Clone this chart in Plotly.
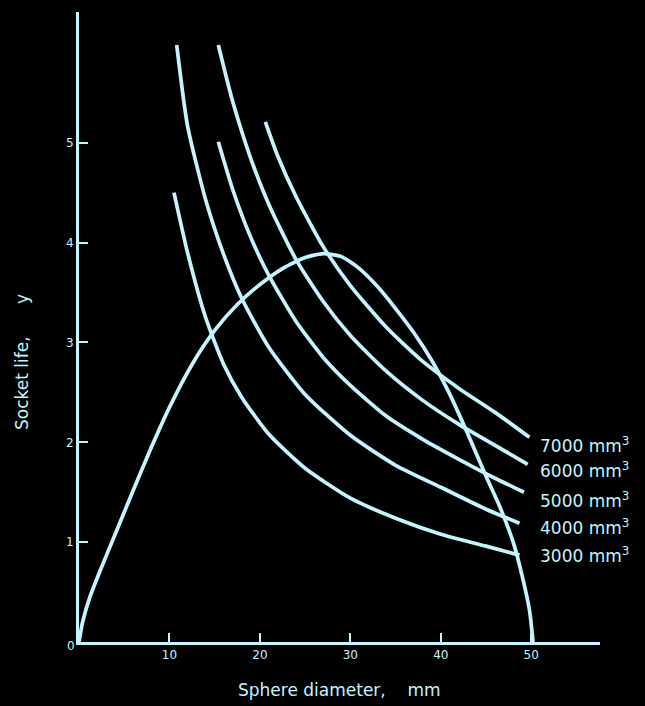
import plotly.graph_objects as go

# Sphere diameter (mm) vs socket life (y) for given wear volumes
x_3000 = [10.5, 12, 14, 16, 18, 21, 25, 30, 35, 40, 45, 48.7]
y_3000 = [4.50, 3.90, 3.25, 2.78, 2.45, 2.08, 1.74, 1.44, 1.24, 1.08, 0.96, 0.87]

x_4000 = [10.8, 12, 14, 16, 18, 21, 25, 30, 35, 40, 45, 48.7]
y_4000 = [5.98, 5.17, 4.43, 3.88, 3.44, 2.95, 2.48, 2.07, 1.77, 1.55, 1.33, 1.19]

x_5000 = [15.4, 17, 19, 21, 24, 27, 30, 34, 38, 42, 46, 49.2]
y_5000 = [5.01, 4.53, 4.05, 3.67, 3.21, 2.85, 2.57, 2.26, 2.03, 1.83, 1.64, 1.50]

x_6000 = [15.4, 17, 19, 21, 24, 27, 30, 34, 38, 42, 46, 49.6]
y_6000 = [5.98, 5.41, 4.84, 4.38, 3.83, 3.41, 3.07, 2.71, 2.42, 2.18, 1.97, 1.78]

x_7000 = [20.6, 22, 24, 27, 30, 34, 38, 42, 46, 49.8]
y_7000 = [5.21, 4.86, 4.46, 3.96, 3.57, 3.15, 2.81, 2.54, 2.30, 2.05]

# dome-shaped curve
x_dome = [0, 0.4, 1.2, 2.5, 4, 6, 8, 10, 12.5, 15, 17.5, 20, 22.5, 25, 27, 29, 31, 33,
          35, 37, 39, 41, 43, 45, 46.5, 48, 49, 49.8, 50.2]
y_dome = [0, 0.2, 0.45, 0.75, 1.08, 1.52, 1.95, 2.35, 2.78, 3.12, 3.38, 3.58, 3.74, 3.85,
          3.89, 3.86, 3.74, 3.56, 3.34, 3.10, 2.82, 2.48, 2.08, 1.66, 1.36, 1.00, 0.66, 0.32, 0.0]

curve_labels = ["3000 mm<sup>3</sup>", "4000 mm<sup>3</sup>", "5000 mm<sup>3</sup>",
                "6000 mm<sup>3</sup>", "7000 mm<sup>3</sup>"]
label_y = [0.87, 1.15, 1.42, 1.72, 1.97]

x_ticks = [10, 20, 30, 40, 50]
y_ticks = [1, 2, 3, 4, 5]

line_color = "#c4f4ff"
font_fam = "DejaVu Sans"

fig = go.Figure()
series = [(x_3000, y_3000), (x_4000, y_4000), (x_5000, y_5000),
          (x_6000, y_6000), (x_7000, y_7000), (x_dome, y_dome)]
for xs, ys in series:
    fig.add_trace(go.Scatter(x=xs, y=ys, mode="lines",
                             line=dict(color=line_color, width=3.7, shape="spline", smoothing=0.6),
                             showlegend=False, hoverinfo="skip"))

for txt, yy in zip(curve_labels, label_y):
    fig.add_annotation(x=50.7, y=yy, text=txt, showarrow=False, xanchor="left",
                       yanchor="middle", font=dict(color=line_color, size=17, family=font_fam))

fig.add_annotation(x=0, y=0, text="0", showarrow=False, xshift=-8, yshift=-4,
                   font=dict(color=line_color, size=12, family=font_fam))

fig.add_annotation(xref="paper", yref="paper", x=0.5, y=0, yshift=-48,
                   text="Sphere diameter,    mm",
                   showarrow=False, xanchor="center", yanchor="middle",
                   font=dict(color=line_color, size=17, family=font_fam))
fig.add_annotation(xref="paper", yref="paper", x=0, xshift=-57, y=0.5, yshift=-35,
                   text="Socket life,      y", textangle=-90,
                   showarrow=False, xanchor="center", yanchor="middle",
                   font=dict(color=line_color, size=17, family=font_fam))

fig.update_layout(
    width=645, height=706,
    paper_bgcolor="#000000", plot_bgcolor="#000000",
    margin=dict(l=79, r=45, t=12, b=64),
    xaxis=dict(range=[0, 57.6], tickvals=x_ticks, ticks="inside", ticklen=9, tickwidth=2,
               tickcolor=line_color, showline=True, linecolor=line_color, linewidth=3,
               showgrid=False, zeroline=False,
               tickfont=dict(color=line_color, size=12, family=font_fam)),
    yaxis=dict(range=[0, 6.31], tickvals=y_ticks, ticks="inside", ticklen=9, tickwidth=2,
               tickcolor=line_color, showline=True, linecolor=line_color, linewidth=3,
               showgrid=False, zeroline=False, ticklabelstandoff=0,
               tickfont=dict(color=line_color, size=12, family=font_fam)),
)

fig.write_html("out.html", config={"displayModeBar": False},
               post_script="document.body.style.margin='0';document.body.style.background='#000';")
